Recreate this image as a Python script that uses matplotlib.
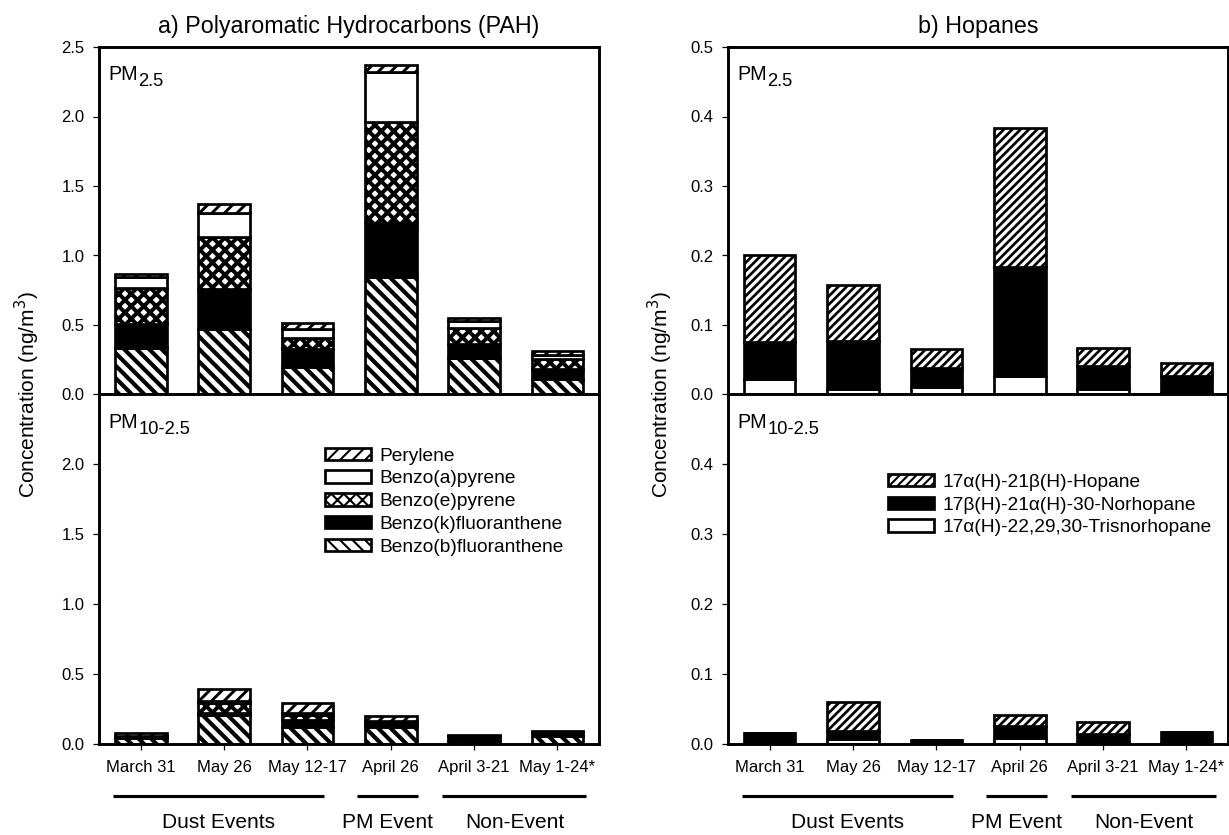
"""Stacked bar chart of PAH and hopane concentrations (PM2.5 / PM10-2.5)."""
from __future__ import annotations

import matplotlib.patches as mpatches
import matplotlib.pyplot as plt
import numpy as np
from matplotlib.ticker import FormatStrFormatter

plt.rcParams.update(
    {
        "font.family": ["Liberation Sans", "DejaVu Sans"],
        "font.size": 8,
        "axes.linewidth": 1.4,
        "xtick.direction": "out",
        "ytick.direction": "out",
        "hatch.color": "black",
    }
)

# Sampling periods (x categories) and the event groups drawn underneath.
DATES = ["March 31", "May 26", "May 12-17", "April 26", "April 3-21", "May 1-24*"]
EVENT_GROUPS = ["Dust Events", "PM Event", "Non-Event"]

# a) PAH, PM2.5 fraction (ng/m3), stacked bottom -> top
PAH_FINE_BBF = [0.336, 0.472, 0.199, 0.847, 0.264, 0.108]
PAH_FINE_BKF = [0.168, 0.288, 0.125, 0.387, 0.096, 0.072]
PAH_FINE_BEP = [0.259, 0.373, 0.084, 0.730, 0.115, 0.072]
PAH_FINE_BAP = [0.080, 0.175, 0.060, 0.354, 0.053, 0.029]
PAH_FINE_PER = [0.027, 0.061, 0.043, 0.055, 0.024, 0.031]

# a) PAH, PM10-2.5 fraction (ng/m3)
PAH_COARSE_BBF = [0.040, 0.210, 0.120, 0.120, 0.020, 0.055]
PAH_COARSE_BKF = [0.020, 0.015, 0.055, 0.030, 0.040, 0.030]
PAH_COARSE_BEP = [0.000, 0.065, 0.035, 0.005, 0.000, 0.000]
PAH_COARSE_BAP = [0.000, 0.015, 0.015, 0.010, 0.000, 0.000]
PAH_COARSE_PER = [0.020, 0.085, 0.065, 0.035, 0.007, 0.006]

# b) Hopanes, PM2.5 fraction (ng/m3)
HOP_FINE_TRIS = [0.023, 0.008, 0.011, 0.026, 0.008, 0.003]
HOP_FINE_NOR = [0.052, 0.069, 0.027, 0.157, 0.033, 0.023]
HOP_FINE_HOP = [0.125, 0.080, 0.028, 0.201, 0.026, 0.019]

# b) Hopanes, PM10-2.5 fraction (ng/m3)
HOP_COARSE_TRIS = [0.000, 0.007, 0.000, 0.009, 0.001, 0.001]
HOP_COARSE_NOR = [0.016, 0.012, 0.006, 0.017, 0.014, 0.016]
HOP_COARSE_HOP = [0.000, 0.041, 0.000, 0.016, 0.017, 0.000]

PAH_LABELS = ["Benzo(b)fluoranthene", "Benzo(k)fluoranthene", "Benzo(e)pyrene",
              "Benzo(a)pyrene", "Perylene"]
HOP_LABELS = ["17\u03b1(H)-22,29,30-Trisnorhopane", "17\u03b2(H)-21\u03b1(H)-30-Norhopane",
              "17\u03b1(H)-21\u03b2(H)-Hopane"]

# (facecolor, hatch, hatch linewidth) per stacked layer, bottom -> top
PAH_STYLES = [("white", "\\\\\\\\", 2.0), ("black", "", 1.0), ("white", "xxxx", 1.9),
              ("white", "", 1.0), ("white", "////", 1.4)]
HOP_STYLES = [("white", "", 1.0), ("black", "", 1.0), ("white", "//////", 1.3)]

# x extent (in category units) of the lines under each event group
GROUP_SPANS = [(-0.33, 2.2), (2.59, 3.33), (3.62, 5.35)]

W, H, DPI = 1229, 835, 150
EDGE_LW = 1.3


def _set_hatch_lw(patch, lw):
    if hasattr(patch, "set_hatch_linewidth"):
        patch.set_hatch_linewidth(lw)


def draw_stack(ax, layers, styles):
    x = np.arange(len(DATES))
    bottom = np.zeros(len(DATES))
    for values, (face, hatch, hlw) in zip(layers, styles):
        values = np.asarray(values)
        bars = ax.bar(x, values, 0.62, bottom=bottom, color=face, edgecolor="black",
                      linewidth=EDGE_LW, hatch=hatch or None, zorder=2)
        for b in bars:
            _set_hatch_lw(b, hlw)
        bottom += values


def style_axes(ax, ymax, yticks, labels):
    ax.set_xlim(-0.5, 5.5)
    ax.set_ylim(0, ymax)
    ax.set_yticks(yticks)
    ax.yaxis.set_major_formatter(FormatStrFormatter("%.1f"))
    ax.set_xticks(np.arange(len(DATES)))
    ax.set_xticklabels(DATES if labels else [])
    ax.tick_params(axis="both", length=3, width=0.6, labelsize=8)
    ax.tick_params(axis="y", pad=4)
    ax.tick_params(axis="x", pad=4.5)


def pm_label(ax, sub):
    t = ax.text(0.018, 0.905, "PM", transform=ax.transAxes, fontsize=9.5,
                va="baseline", ha="left")
    ax.annotate(sub, xy=(1, 0), xycoords=t, xytext=(0.3, -1.0),
                textcoords="offset points", fontsize=8.8, va="baseline", ha="left")


def add_legend(ax, labels, styles, anchor):
    handles = []
    for face, hatch, hlw in styles:
        p = mpatches.Patch(facecolor=face, edgecolor="black", linewidth=EDGE_LW,
                           hatch=hatch or None)
        _set_hatch_lw(p, hlw)
        handles.append(p)
    ax.legend(handles[::-1], labels[::-1], loc="upper left", bbox_to_anchor=anchor,
              frameon=False, fontsize=9.2, handlelength=2.4, handleheight=0.62,
              labelspacing=0.3, handletextpad=0.45, borderpad=0, borderaxespad=0)


def event_groups(ax):
    trans = ax.get_xaxis_transform()
    for name, (x0, x1) in zip(EVENT_GROUPS, GROUP_SPANS):
        ax.plot([x0, x1], [-0.148, -0.148], color="black", lw=1.5,
                transform=trans, clip_on=False, solid_capstyle="butt")
        ax.text((x0 + x1) / 2, -0.226, name, transform=trans, ha="center",
                va="center", fontsize=10)


fig = plt.figure(figsize=(W / DPI, H / DPI), dpi=DPI)
top_b, top_h = 1 - 394.5 / H, (394.5 - 47) / H
bot_b, bot_h = 1 - 744 / H, (744 - 394.5) / H
left_l, right_l, ax_w = 99 / W, 728 / W, 500 / W

ax_pah_top = fig.add_axes([left_l, top_b, ax_w, top_h])
ax_pah_bot = fig.add_axes([left_l, bot_b, ax_w, bot_h])
ax_hop_top = fig.add_axes([right_l, top_b, ax_w, top_h])
ax_hop_bot = fig.add_axes([right_l, bot_b, ax_w, bot_h])

draw_stack(ax_pah_top, [PAH_FINE_BBF, PAH_FINE_BKF, PAH_FINE_BEP, PAH_FINE_BAP, PAH_FINE_PER], PAH_STYLES)
draw_stack(ax_pah_bot, [PAH_COARSE_BBF, PAH_COARSE_BKF, PAH_COARSE_BEP, PAH_COARSE_BAP, PAH_COARSE_PER], PAH_STYLES)
draw_stack(ax_hop_top, [HOP_FINE_TRIS, HOP_FINE_NOR, HOP_FINE_HOP], HOP_STYLES)
draw_stack(ax_hop_bot, [HOP_COARSE_TRIS, HOP_COARSE_NOR, HOP_COARSE_HOP], HOP_STYLES)

style_axes(ax_pah_top, 2.5, np.arange(0, 2.51, 0.5), False)
style_axes(ax_pah_bot, 2.5, np.arange(0, 2.01, 0.5), True)
style_axes(ax_hop_top, 0.5, np.arange(0, 0.51, 0.1), False)
style_axes(ax_hop_bot, 0.5, np.arange(0, 0.41, 0.1), True)

for ax in (ax_pah_top, ax_hop_top):
    pm_label(ax, "2.5")
for ax in (ax_pah_bot, ax_hop_bot):
    pm_label(ax, "10-2.5")
    event_groups(ax)

add_legend(ax_pah_bot, PAH_LABELS, PAH_STYLES, (0.452, 0.848))
add_legend(ax_hop_bot, HOP_LABELS, HOP_STYLES, (0.319, 0.773))

ax_pah_top.set_title("a) Polyaromatic Hydrocarbons (PAH)", fontsize=11.2, pad=6.5)
ax_hop_top.set_title("b) Hopanes", fontsize=11.2, pad=6.5)

for x in (27 / W, 660 / W):
    fig.text(x, 1 - 394.5 / H, "Concentration (ng/m$^3$)", rotation=90,
             ha="center", va="center", fontsize=10)

fig.savefig("out.png", dpi=DPI)
